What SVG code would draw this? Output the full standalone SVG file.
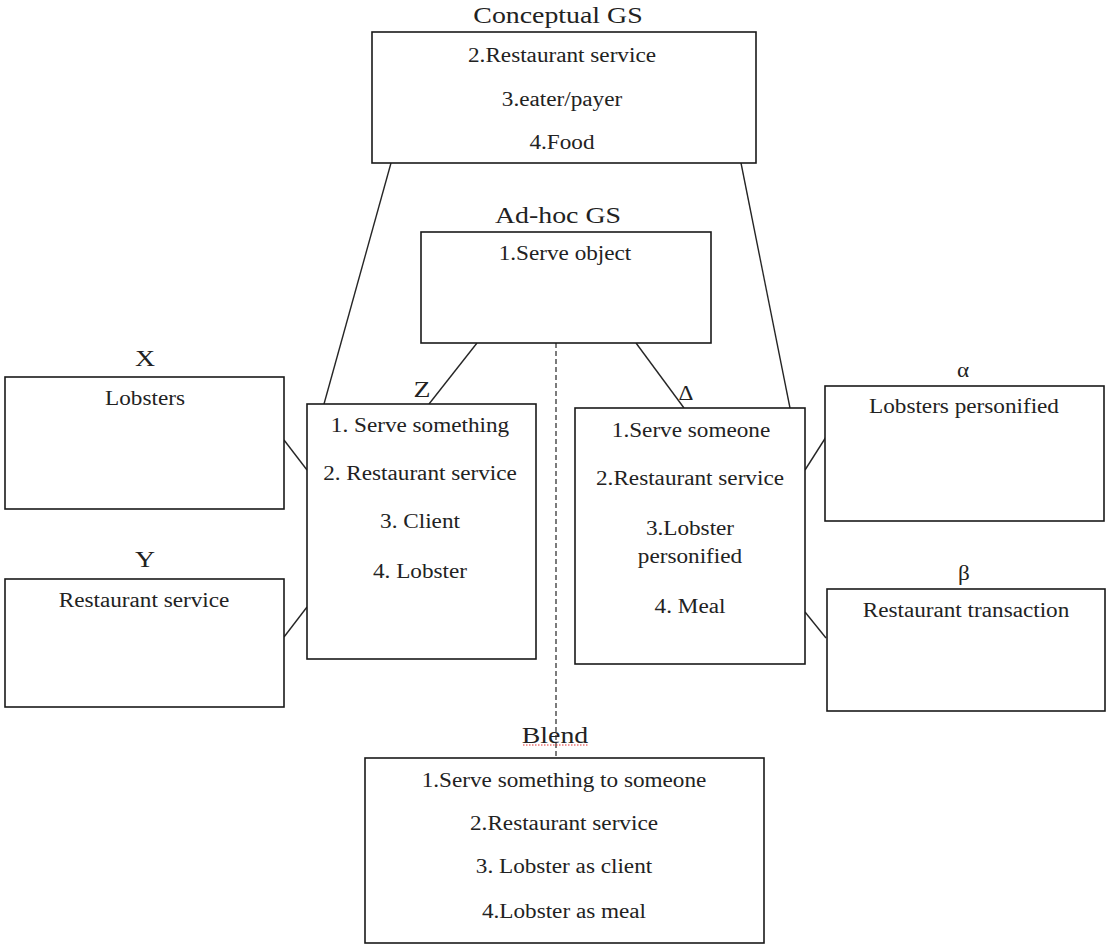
<svg xmlns="http://www.w3.org/2000/svg" width="1106" height="948" viewBox="0 0 1106 948">
  <style>
    .box { fill: #fff; stroke: #1a1a1a; stroke-width: 1.6; }
    .link { stroke: #262626; stroke-width: 1.4; fill: none; }
    .dash { stroke: #444; stroke-width: 1.4; stroke-dasharray: 5 3; fill: none; }
    .t { font-family: "Liberation Serif", "Times New Roman", serif; font-size: 20px; fill: #222; text-anchor: middle; }
    .h { font-family: "Liberation Serif", "Times New Roman", serif; font-size: 24px; fill: #222; text-anchor: middle; }
    .g { font-family: "Liberation Serif", "DejaVu Serif", serif; font-size: 20px; fill: #222; text-anchor: middle; }
  </style>

  <rect width="1106" height="948" fill="#fff"/>

  <!-- connectors -->
  <g id="connectors">
    <line class="link" x1="391" y1="163" x2="324" y2="404"/>
    <line class="link" x1="741" y1="163" x2="790" y2="408"/>
    <line class="link" x1="477" y1="343" x2="429" y2="404"/>
    <line class="link" x1="636" y1="343" x2="684" y2="408"/>
    <line class="link" x1="284" y1="440" x2="307" y2="470"/>
    <line class="link" x1="284" y1="637" x2="307" y2="607"/>
    <line class="link" x1="805" y1="470" x2="826" y2="437"/>
    <line class="link" x1="805" y1="612" x2="826" y2="638"/>
    <line class="dash" x1="556" y1="343" x2="556" y2="758"/>
  </g>

  <!-- generic space: conceptual -->
  <g id="conceptual-gs">
    <text class="h" transform="translate(558,23) scale(1.16,1)">Conceptual GS</text>
    <rect class="box" x="372" y="32" width="384" height="131"/>
    <text class="t" transform="translate(562,62) scale(1.16,1)">2.Restaurant service</text>
    <text class="t" transform="translate(562,106) scale(1.16,1)">3.eater/payer</text>
    <text class="t" transform="translate(562,149) scale(1.16,1)">4.Food</text>
  </g>

  <!-- generic space: ad-hoc -->
  <g id="adhoc-gs">
    <text class="h" transform="translate(558,223) scale(1.16,1)">Ad-hoc GS</text>
    <rect class="box" x="421" y="232" width="290" height="111"/>
    <text class="t" transform="translate(565,260) scale(1.16,1)">1.Serve object</text>
  </g>

  <!-- input X -->
  <g id="input-x">
    <text class="h" transform="translate(145,366) scale(1.16,1)">X</text>
    <rect class="box" x="5" y="377" width="279" height="132"/>
    <text class="t" transform="translate(145,405) scale(1.16,1)">Lobsters</text>
  </g>

  <!-- input Y -->
  <g id="input-y">
    <text class="h" transform="translate(145,567) scale(1.16,1)">Y</text>
    <rect class="box" x="5" y="579" width="279" height="128"/>
    <text class="t" transform="translate(144,607) scale(1.16,1)">Restaurant service</text>
  </g>

  <!-- input Z -->
  <g id="input-z">
    <text class="h" transform="translate(422,397) scale(1.16,1)">Z</text>
    <rect class="box" x="307" y="404" width="229" height="255"/>
    <text class="t" transform="translate(420,432) scale(1.16,1)">1. Serve something</text>
    <text class="t" transform="translate(420,480) scale(1.16,1)">2. Restaurant service</text>
    <text class="t" transform="translate(420,528) scale(1.16,1)">3. Client</text>
    <text class="t" transform="translate(420,578) scale(1.16,1)">4. Lobster</text>
  </g>

  <!-- input Delta -->
  <g id="input-delta">
    <text class="g" transform="translate(686,400) scale(1.16,1)">Δ</text>
    <rect class="box" x="575" y="408" width="230" height="256"/>
    <text class="t" transform="translate(691,437) scale(1.16,1)">1.Serve someone</text>
    <text class="t" transform="translate(690,485) scale(1.16,1)">2.Restaurant service</text>
    <text class="t" transform="translate(690,535) scale(1.16,1)">3.Lobster</text>
    <text class="t" transform="translate(690,563) scale(1.16,1)">personified</text>
    <text class="t" transform="translate(690,613) scale(1.16,1)">4. Meal</text>
  </g>

  <!-- input alpha -->
  <g id="input-alpha">
    <text class="g" transform="translate(963,377) scale(1.16,1)">α</text>
    <rect class="box" x="825" y="386" width="279" height="135"/>
    <text class="t" transform="translate(964,413) scale(1.16,1)">Lobsters personified</text>
  </g>

  <!-- input beta -->
  <g id="input-beta">
    <text class="g" transform="translate(964,580) scale(1.16,1)">β</text>
    <rect class="box" x="827" y="589" width="278" height="122"/>
    <text class="t" transform="translate(966,617) scale(1.16,1)">Restaurant transaction</text>
  </g>

  <!-- blended space -->
  <g id="blend">
    <text class="h" transform="translate(555,743) scale(1.16,1)">Blend</text>
    <line x1="523" y1="745" x2="588" y2="745" stroke="#e03030" stroke-width="1" stroke-dasharray="1.5 1.5"/>
    <rect class="box" x="365" y="758" width="399" height="185"/>
    <text class="t" transform="translate(564,787) scale(1.16,1)">1.Serve something to someone</text>
    <text class="t" transform="translate(564,830) scale(1.16,1)">2.Restaurant service</text>
    <text class="t" transform="translate(564,873) scale(1.16,1)">3. Lobster as client</text>
    <text class="t" transform="translate(564,918) scale(1.16,1)">4.Lobster as meal</text>
  </g>
</svg>
